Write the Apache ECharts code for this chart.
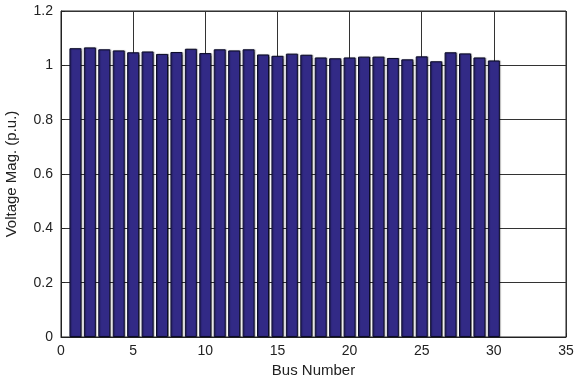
<!DOCTYPE html>
<html>
<head>
<meta charset="utf-8">
<script src="https://cdn.jsdelivr.net/npm/echarts@6/dist/echarts.min.js"></script>
<style>
html,body{margin:0;padding:0;background:#fff;}
#chart{width:577px;height:381px;}
</style>
</head>
<body>
<div id="chart"></div>
<script>
// Bus numbers and voltage magnitudes (p.u.)
const buses = [1,2,3,4,5,6,7,8,9,10,11,12,13,14,15,16,17,18,19,20,21,22,23,24,25,26,27,28,29,30];
const voltages = [1.063,1.066,1.059,1.055,1.048,1.051,1.042,1.049,1.061,1.045,
                  1.059,1.055,1.059,1.040,1.035,1.043,1.039,1.029,1.026,1.029,
                  1.032,1.032,1.027,1.022,1.033,1.015,1.048,1.044,1.029,1.018];
const xTicks = [0,5,10,15,20,25,30,35];
const yTicks = [0,0.2,0.4,0.6,0.8,1,1.2];

const chart = echarts.init(document.getElementById('chart'));
const fontFamily = 'Liberation Sans, Arial, sans-serif';
chart.setOption({
  animation: false,
  grid: {left: 61, right: 11, top: 11, bottom: 44, containLabel: false, outerBoundsMode: 'none',
    show: true, borderColor: '#222', borderWidth: 1},
  xAxis: {
    type: 'value', min: xTicks[0], max: xTicks[xTicks.length-1], interval: 5,
    name: 'Bus Number', nameLocation: 'middle', nameGap: 25,
    nameTextStyle: {fontFamily, fontSize: 15, color: '#222'},
    axisLine: {show: true, onZero: false, lineStyle: {color: '#222'}},
    axisTick: {show: true, inside: true, length: 4, lineStyle: {color: '#222'}},
    axisLabel: {fontFamily, fontSize: 14, color: '#222', margin: 7},
    splitLine: {show: true, lineStyle: {color: '#333', width: 1}}
  },
  yAxis: {
    type: 'value', min: yTicks[0], max: yTicks[yTicks.length-1], interval: 0.2,
    name: 'Voltage Mag. (p.u.)', nameLocation: 'middle', nameGap: 42,
    nameTextStyle: {fontFamily, fontSize: 15, color: '#222'},
    axisLine: {show: true, lineStyle: {color: '#222'}},
    axisTick: {show: true, inside: true, length: 4, lineStyle: {color: '#222'}},
    axisLabel: {fontFamily, fontSize: 14, color: '#222', margin: 8,
      formatter: v => String(Math.round(v*10)/10)},
    splitLine: {show: true, lineStyle: {color: '#333', width: 1}}
  },
  series: [{
    type: 'bar',
    data: buses.map((b, i) => [b, voltages[i]]),
    barWidth: 12,
    itemStyle: {color: '#322a86', borderColor: '#0c0c2a', borderWidth: 1,
      shadowColor: 'rgba(0,0,0,0.35)', shadowOffsetX: 1, shadowOffsetY: 0, shadowBlur: 1}
  }]
});
</script>
</body>
</html>
